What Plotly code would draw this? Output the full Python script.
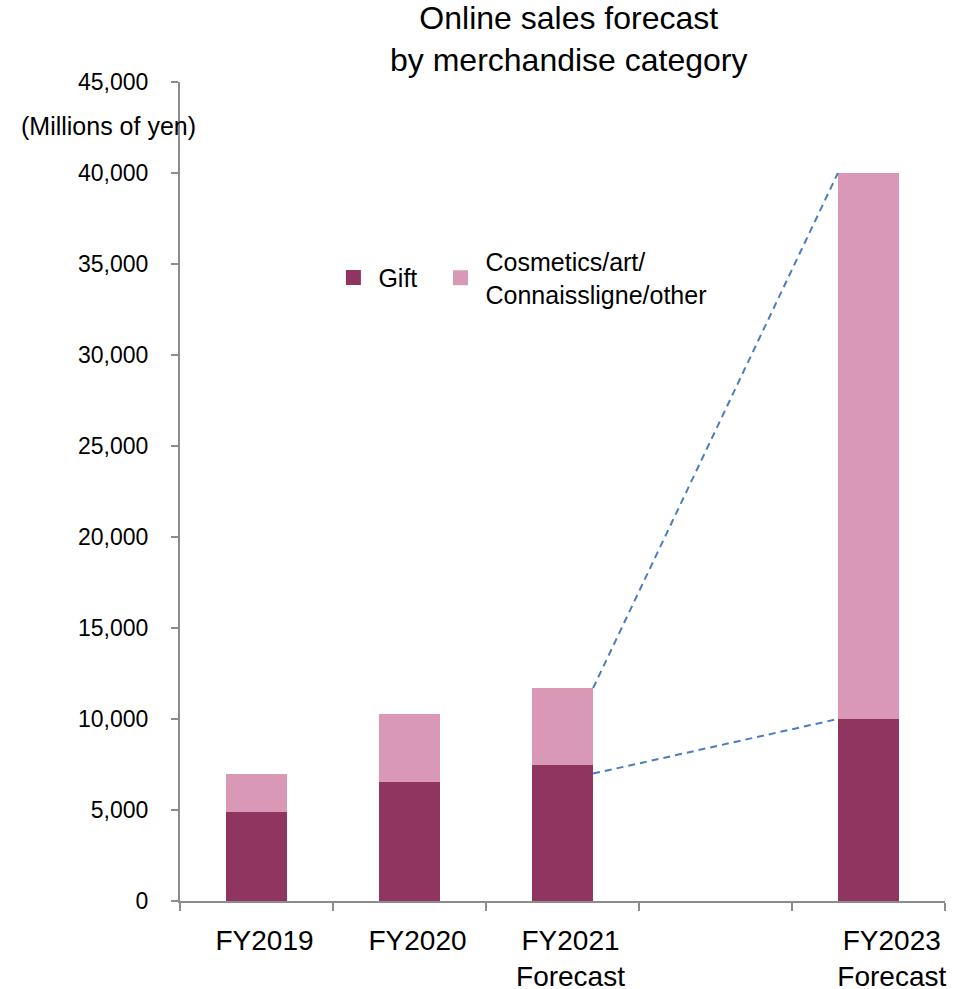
import plotly.graph_objects as go

# Fiscal-year slots on the x axis (FY2022 slot left empty)
slot_labels = ["FY2019", "FY2020", "FY2021<br>Forecast", "", "FY2023<br>Forecast"]
label_pos = [0, 1, 2, 3, 4.1]
bar_slots = [0, 1, 2, 4]

# Sales in millions of yen
gift = [4900, 6550, 7500, 10000]
cosmetics = [2100, 3750, 4200, 30000]

# Dashed growth links between FY2021 and FY2023
gift_link = [7000, 10000]

GIFT_COLOR = "#8F3560"
COSM_COLOR = "#D898B6"
LINK_COLOR = "#4A7DC0"
AXIS_COLOR = "#8C8C8C"
FONT = "Liberation Sans, Arial, sans-serif"

bar_width = 0.4
half = bar_width / 2
totals = [g + c for g, c in zip(gift, cosmetics)]

fig = go.Figure()

fig.add_trace(go.Bar(x=bar_slots, y=gift, width=bar_width, marker=dict(color=GIFT_COLOR, line=dict(width=0)),
                     showlegend=False, hoverinfo="y"))
fig.add_trace(go.Bar(x=bar_slots, y=cosmetics, width=bar_width, marker=dict(color=COSM_COLOR, line=dict(width=0)),
                     showlegend=False, hoverinfo="y"))

# Connector lines from FY2021 bar edge to FY2023 bar edge
link_x = [bar_slots[2] + half, bar_slots[3] - half]
fig.add_trace(go.Scatter(x=link_x, y=[totals[2], totals[3]], mode="lines",
                         line=dict(color=LINK_COLOR, width=2, dash="7px,5px"), showlegend=False, hoverinfo="skip"))
fig.add_trace(go.Scatter(x=link_x, y=gift_link, mode="lines",
                         line=dict(color=LINK_COLOR, width=2, dash="7px,5px"), showlegend=False, hoverinfo="skip"))

# Legend entries, one per legend box so each can be placed on its own
fig.add_trace(go.Scatter(x=[None], y=[None], mode="markers", name="Gift", legend="legend",
                         marker=dict(symbol="square", size=15, color=GIFT_COLOR)))
fig.add_trace(go.Scatter(x=[None], y=[None], mode="markers", name="Cosmetics/art/<br>Connaissligne/other",
                         legend="legend2", marker=dict(symbol="square", size=15, color=COSM_COLOR)))

legend_style = dict(font=dict(size=25, family=FONT, color="#000000"), valign="middle",
                    bgcolor="rgba(0,0,0,0)", itemwidth=40, yanchor="middle", xanchor="left")

fig.update_layout(
    width=960, height=989,
    barmode="stack",
    plot_bgcolor="white", paper_bgcolor="white",
    margin=dict(l=180, r=15, t=82, b=88, autoexpand=False),
    font=dict(family=FONT, color="#000000"),
    legend=dict(x=0.194, y=0.761, **legend_style),
    legend2=dict(x=0.334, y=0.761, **legend_style),
    showlegend=True,
)

fig.add_annotation(text="Online sales forecast<br>by merchandise category", xref="paper", yref="paper",
                   x=0.508, y=1.052, xanchor="center", yanchor="middle", showarrow=False,
                   font=dict(size=32, family=FONT, color="#000000"))

fig.update_xaxes(
    range=[-0.5, 4.5], automargin=False,
    tickmode="array", tickvals=label_pos, ticktext=slot_labels,
    ticks="", showgrid=False, zeroline=False,
    showline=True, linecolor=AXIS_COLOR, linewidth=2,
    tickfont=dict(size=28, family=FONT, color="#000000"),
    ticklabelstandoff=13, ticklabelshift=8,
    minor=dict(tickmode="linear", tick0=-0.5, dtick=1, ticks="outside", ticklen=8,
               tickwidth=2, tickcolor=AXIS_COLOR, showgrid=False),
    fixedrange=True,
)

fig.update_yaxes(
    range=[0, 45000], tickmode="linear", tick0=0, dtick=5000, automargin=False,
    tickformat=",d", ticks="outside", ticklen=7, tickwidth=2, tickcolor=AXIS_COLOR,
    showline=True, linecolor=AXIS_COLOR, linewidth=2,
    showgrid=False, zeroline=False,
    tickfont=dict(size=23, family=FONT, color="#000000"),
    ticklabelstandoff=18,
    fixedrange=True,
)

fig.add_annotation(text="(Millions of yen)", xref="paper", yref="paper", x=-0.093, y=0.946,
                   xanchor="center", yanchor="middle", showarrow=False,
                   font=dict(size=25, family=FONT, color="#000000"))

fig.write_html("out.html")
